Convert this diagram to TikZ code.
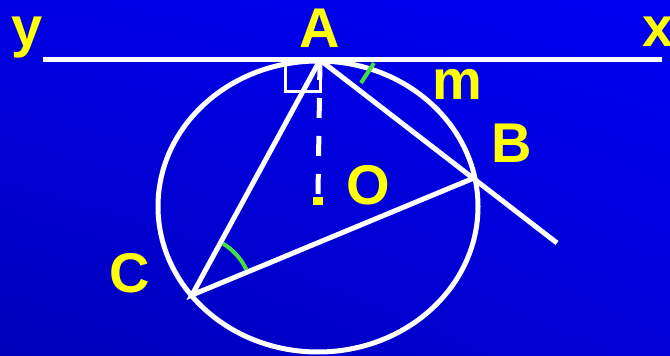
\documentclass[tikz,border=0pt]{standalone}
\usepackage{fontspec}
\setmainfont{Liberation Sans}
\usetikzlibrary{shadings,calc}
\definecolor{bgUL}{RGB}{0,0,228}
\definecolor{bgUR}{RGB}{0,0,242}
\definecolor{bgLL}{RGB}{0,0,186}
\definecolor{bgLR}{RGB}{0,0,214}
\definecolor{lbl}{RGB}{255,255,0}
\definecolor{mk}{RGB}{64,226,64}
\tikzset{
  geo/.style={white,line width=5pt},
  lab/.style={text=lbl,font=\bfseries\fontsize{56}{60}\selectfont,inner sep=0pt,anchor=base},
  anglemark/.style={mk,line width=4pt}
}
\begin{document}
\begin{tikzpicture}[x=1pt,y=1pt]
\useasboundingbox (0,0) rectangle (670,356);
\shade[upper left=bgUL,upper right=bgUR,lower left=bgLL,lower right=bgLR] (0,0) rectangle (670,356);
% points
\coordinate (Y) at (43,296);
\coordinate (X) at (662,296);
\coordinate (A) at (320,296);
\coordinate (B) at (474,178);
\coordinate (C) at (192,61);
\coordinate (E) at (557,113);
\coordinate (O) at (318,149.5);
\coordinate (D) at (318,161);
% circle
\draw[geo] (O) ellipse [x radius=160,y radius=145.5];
% tangent
\draw[geo] (Y) -- (X);
% chords
\draw[geo] (A) -- (E);
\draw[geo] (A) -- (C) -- (B);
% right angle square
\draw[white,line width=3pt] (285,296) rectangle (320,264);
% dashed radius
\draw[white,line width=5pt,dash pattern=on 20pt off 18pt] (A) -- (D);
\fill[lbl] (313,151) rectangle (323,159);
% angle marks
\draw[anglemark] (361,273) -- (374,293);
\draw[anglemark] ($(C)+(59:60)$) arc[start angle=59,end angle=25,radius=60];
% labels
\node[lab] (ly) at (27.5,309) {y};
\node[lab,anchor=base west] (lx) at (642,309) {x};
\node[lab] (lA) at (320,308) {A};
\node[lab] (lm) at (457,256) {m};
\node[lab] (lB) at (512,193) {B};
\node[lab] (lO) at (368.5,151) {O};
\node[lab] (lC) at (129.5,63) {C};
\end{tikzpicture}
\end{document}
